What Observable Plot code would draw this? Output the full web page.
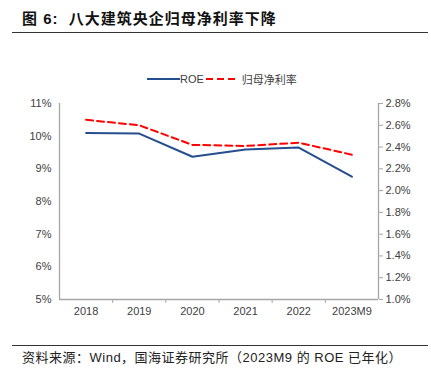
<!DOCTYPE html>
<html><head><meta charset="utf-8">
<script src="https://cdn.jsdelivr.net/npm/d3@7"></script>
<script src="https://cdn.jsdelivr.net/npm/@observablehq/plot@0.6"></script>
<style>
body{margin:0;width:431px;height:375px;position:relative;background:#fff;overflow:hidden;font-family:"Liberation Sans",Arial,sans-serif}
#title{position:absolute;left:22px;top:7px;font-weight:bold;font-size:15px;letter-spacing:1px;font-family:"Liberation Sans","Noto Sans CJK SC",sans-serif;color:#111;white-space:nowrap}
#tline{position:absolute;left:12px;top:32px;width:416px;height:1px;background:#333}
#legend{position:absolute;left:147px;top:71px;display:flex;align-items:center;font-size:11px;color:#404040;font-family:"Liberation Sans","Noto Sans CJK SC",sans-serif;white-space:nowrap}
#chart{position:absolute;left:0;top:88px}
#cline{position:absolute;left:12px;top:345px;width:416px;height:1px;background:#333}
#caption{position:absolute;left:22px;top:347px;font-size:13px;letter-spacing:0.5px;color:#222;font-family:"Liberation Sans","Noto Sans CJK SC",sans-serif;white-space:nowrap}
</style></head>
<body>
<div id="title">图 6:&nbsp; 八大建筑央企归母净利率下降</div>
<div id="tline"></div>
<div id="legend"></div>
<div id="chart"></div>
<div id="cline"></div>
<div id="caption">资料来源：Wind，国海证券研究所（2023M9 的 ROE 已年化）</div>
<script>
const categories = ["2018","2019","2020","2021","2022","2023M9"];
const roe = [10.10, 10.08, 9.37, 9.59, 9.65, 8.76];
const netMargin = [2.65, 2.60, 2.42, 2.41, 2.44, 2.33];
const leftTicks = [5,6,7,8,9,10,11];
const rightTicks = [1.0,1.2,1.4,1.6,1.8,2.0,2.2,2.4,2.6,2.8];
const seriesNames = ["ROE","归母净利率"];

const blue = "#254E8F", red = "#FF0000", gray = "#A6A6A6", txt = "#404040";
const lMin = 5, lMax = 11, rMin = 1.0, rMax = 2.8;
const toLeft = r => lMin + (r - rMin) * (lMax - lMin) / (rMax - rMin);
const fromLeft = v => rMin + (v - lMin) * (rMax - rMin) / (lMax - lMin);

const rows = categories.map((c, i) => ({i, c, roe: roe[i], nm: toLeft(netMargin[i])}));
const idx = categories.map((c, i) => i);
const bounds = idx.slice(1).map(i => i - 0.5);

const chart = Plot.plot({
  width: 431, height: 240,
  marginLeft: 59, marginRight: 53, marginTop: 15, marginBottom: 29,
  style: {fontFamily: "Liberation Sans, Arial, sans-serif", fontSize: "11px", color: txt, background: "#fff"},
  x: {type: "linear", domain: [-0.5, categories.length - 0.5]},
  y: {domain: [lMin, lMax]},
  marks: [
    Plot.ruleX([-0.5, categories.length - 0.5], {stroke: gray, strokeWidth: 1.3}),
    Plot.ruleY([lMin], {stroke: gray, strokeWidth: 1.3}),
    Plot.axisY(leftTicks, {anchor: "left", tickSize: 0, tickPadding: 8, tickFormat: d => d + "%", fill: txt, label: null}),
    Plot.axisY(rightTicks.map(toLeft), {anchor: "right", tickSize: 4, tickPadding: 3, stroke: gray, fill: txt, tickFormat: d => fromLeft(d).toFixed(1) + "%", label: null}),
    Plot.axisX(idx, {anchor: "bottom", tickSize: 0, tickPadding: 8, tickFormat: i => categories[i], fill: txt, label: null}),
    Plot.axisX(bounds, {anchor: "bottom", tickSize: 4, stroke: gray, tickFormat: () => "", label: null}),
    Plot.lineY(rows, {x: "i", y: "roe", stroke: blue, strokeWidth: 2}),
    Plot.lineY(rows, {x: "i", y: "nm", stroke: red, strokeWidth: 2, strokeDasharray: "7,4"})
  ]
});
document.getElementById("chart").appendChild(chart);

const lg = document.getElementById("legend");
lg.innerHTML =
  `<svg width="33" height="10"><line x1="0" x2="33" y1="5" y2="5" stroke="${blue}" stroke-width="2"/></svg>` +
  `<span style="margin-right:1px">${seriesNames[0]}</span>` +
  `<svg width="31" height="10"><line x1="1" x2="31" y1="5" y2="5" stroke="${red}" stroke-width="2" stroke-dasharray="7,4"/></svg>` +
  `<span style="margin-left:6px">${seriesNames[1]}</span>`;
</script>
</body></html>
